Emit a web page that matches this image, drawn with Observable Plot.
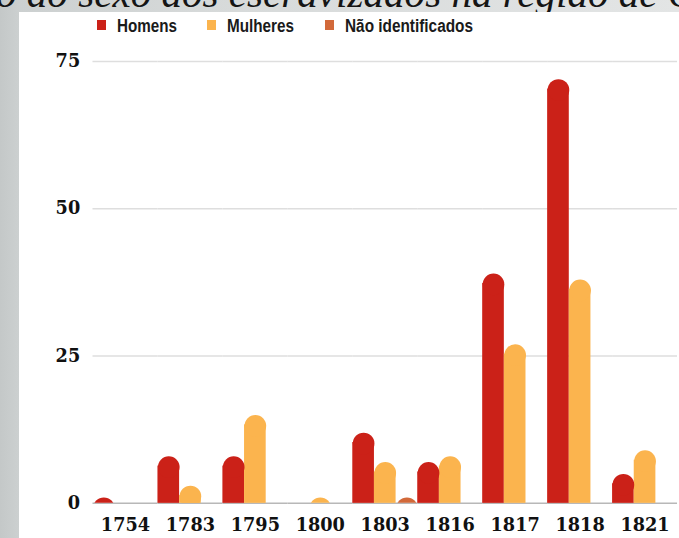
<!DOCTYPE html>
<html><head><meta charset="utf-8">
<script src="https://cdn.jsdelivr.net/npm/d3@7"></script>
<script src="https://cdn.jsdelivr.net/npm/@observablehq/plot@0.6"></script>
<style>
html,body{margin:0;padding:0;}
body{width:679px;height:538px;overflow:hidden;position:relative;
  background:linear-gradient(90deg,#c4c8c8 0px,#ccd0d0 19px,#d6d9d9 200px,#e3e5e5 679px);}
#titlebox{position:absolute;left:0;top:0;width:679px;height:20px;overflow:hidden;}
#titlebox svg{display:block;}
#panel{position:absolute;left:19px;top:12px;width:660px;height:526px;background:#fff;}
#chart{position:absolute;left:0;top:0;width:679px;height:538px;overflow:hidden;}
#legend{position:absolute;left:0;top:0;width:679px;height:40px;
  font-family:"Liberation Sans",Arial,sans-serif;font-weight:bold;font-size:18px;color:#1a1a1a;}
#legend .sw{position:absolute;top:20px;width:9px;height:10px;}
#legend .tx{position:absolute;top:16px;line-height:20px;white-space:nowrap;transform-origin:0 50%;}
</style>
</head><body>
<div id="titlebox"></div>
<div id="panel"></div>
<div id="chart"></div>
<div id="legend"></div>
<script>
const titleText = "o do sexo dos escravizados na região de G";
const years = ["1754","1783","1795","1800","1803","1816","1817","1818","1821"];
const sexes = ["Homens","Mulheres","Não identificados"];
const homens = [1, 8, 8, 0, 12, 7, 39, 72, 5];
const mulheres = [0, 3, 15, 1, 7, 8, 27, 38, 9];
const naoIdentificados = [0, 0, 0, 0, 1, 0, 0, 0, 0];
const colors = ["#cb2118", "#fbb44e", "#d2693a"];
const yTicks = [0, 25, 50, 75];

const series = [homens, mulheres, naoIdentificados];
const rows = [];
years.forEach((y, i) => sexes.forEach((s, j) => {
  const v = series[j][i];
  if (v > 0) rows.push({year: y, sex: s, value: v});
}));

function measure(text, font) {
  const c = document.createElement("canvas").getContext("2d");
  c.font = font;
  return c.measureText(text).width;
}

// title: only its lower part shows above the white panel
const w = measure(titleText.slice(0, -1), "italic 40px 'Liberation Serif'");
const fs = 40 * 672 / w;
const tsvg = d3.select("#titlebox").append("svg").attr("width", 679).attr("height", 20);
tsvg.append("text").attr("x", -4).attr("y", 7)
  .attr("font-family", "'Liberation Serif', serif").attr("font-style", "italic")
  .attr("font-size", fs).attr("fill", "#151515").text(titleText);

// legend: swatch and label positions, labels condensed to the reference widths
const lg = document.getElementById("legend");
const swX = [97, 207, 325], txX = [117, 227, 345], txW = [60, 67, 128];
sexes.forEach((s, j) => {
  const sw = document.createElement("div"); sw.className = "sw";
  sw.style.left = swX[j] + "px"; sw.style.background = colors[j];
  const tx = document.createElement("span"); tx.className = "tx"; tx.textContent = s;
  tx.style.left = txX[j] + "px";
  const nat = measure(s, "bold 18px 'Liberation Sans'");
  tx.style.transform = `scaleX(${txW[j] / nat})`;
  lg.appendChild(sw); lg.appendChild(tx);
});

const axisFont = "'DejaVu Serif', serif";
const chart = Plot.plot({
  width: 690, height: 538,
  marginLeft: 92, marginRight: 0, marginTop: 62, marginBottom: 27,
  style: {background: "transparent", overflow: "visible"},
  facet: {data: rows, x: "year"},
  fx: {domain: years, padding: 0, label: null},
  x: {domain: sexes, padding: 0, axis: null},
  y: {domain: [0, 75], label: null},
  color: {domain: sexes, range: colors},
  marks: [
    Plot.ruleY(yTicks.filter(d => d > 0), {stroke: "#dedede", strokeWidth: 1.5}),
    Plot.ruleY([0], {stroke: "#b8b8b8", strokeWidth: 1.5}),
    Plot.barY(rows, {x: "sex", y: "value", fill: "sex", insetTop: 10, insetLeft: 0, insetRight: 0}),
    Plot.dot(rows, {x: "sex", y: "value", r: 11, dy: 11, fill: "sex", stroke: null, clip: true}),
    Plot.axisY({ticks: yTicks, tickSize: 0, tickPadding: 13, label: null, fontSize: 18, fontWeight: "bold", fontFamily: axisFont, fill: "#111"}),
    Plot.axisFx({anchor: "bottom", tickSize: 0, tickPadding: 15, label: null, fontSize: 18, fontWeight: "bold", fontFamily: axisFont, fill: "#111"})
  ]
});
document.getElementById("chart").appendChild(chart);
</script>
</body></html>
